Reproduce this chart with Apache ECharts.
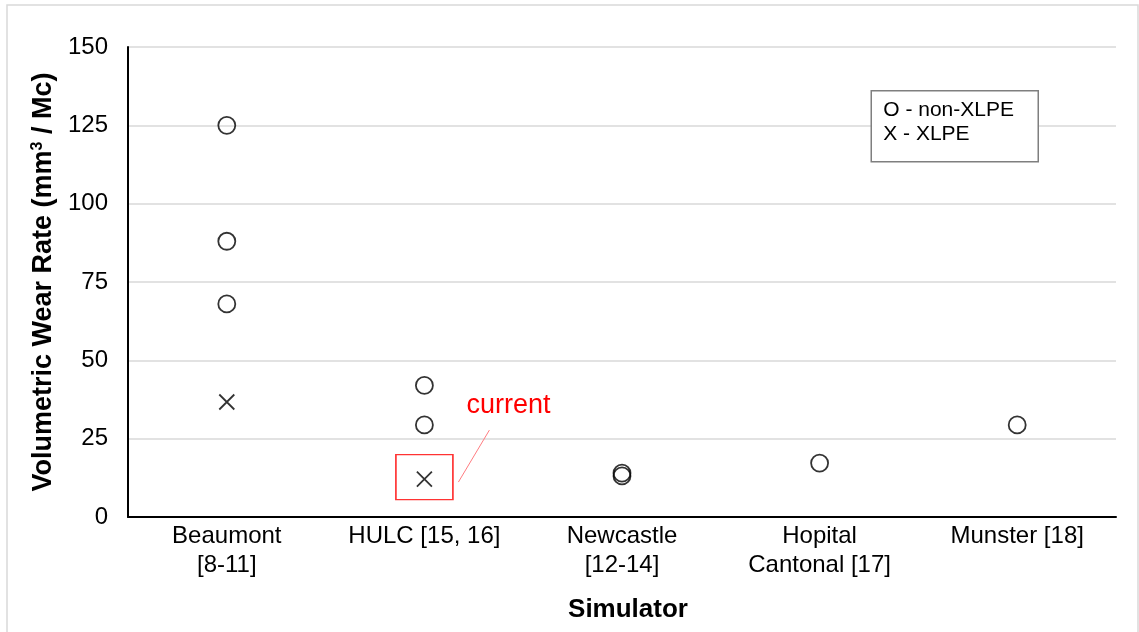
<!DOCTYPE html>
<html>
<head>
<meta charset="utf-8">
<script src="https://cdn.jsdelivr.net/npm/echarts@6/dist/echarts.min.js"></script>
<style>
  html, body { margin: 0; padding: 0; background: #fff; }
  #chart { width: 1139px; height: 632px; }
</style>
</head>
<body>
<div id="chart"></div>
<script>
// Simulators on the x axis
const simulators = ['Beaumont\n[8-11]', 'HULC [15, 16]', 'Newcastle\n[12-14]', 'Hopital\nCantonal [17]', 'Munster [18]'];
// Volumetric wear rate, mm³ / Mc
const nonXlpe = [
  [0, 125], [0, 88], [0, 68],
  [1, 42], [1, 29.4],
  [2, 14], [2, 13.1],
  [3, 17.2],
  [4, 29.4]
];
const xlpe = [
  [0, 36.7],
  [1, 12.1]
];
// The present study's point
const currentPoint = [1, 12.1];
const yTicks = [0, 25, 50, 75, 100, 125, 150];

const FONT = '"Liberation Sans", Arial, sans-serif';
const chart = echarts.init(document.getElementById('chart'));

const crossPath = 'path://M0,0L10,10M10,0L0,10';

chart.setOption({
  animation: false,
  grid: { left: 128, right: 23, top: 47, bottom: 115 },
  xAxis: {
    type: 'category',
    data: simulators,
    boundaryGap: true,
    name: 'Simulator',
    nameLocation: 'middle',
    nameGap: 80,
    nameTextStyle: { fontFamily: FONT, fontSize: 26, fontWeight: 'bold', color: '#000', padding: [0, 0, 0, 12] },
    axisLine: { lineStyle: { color: '#000', width: 2 } },
    axisTick: { show: false },
    axisLabel: { fontFamily: FONT, fontSize: 24, color: '#000', lineHeight: 29, margin: 5, interval: 0 }
  },
  yAxis: {
    type: 'value',
    min: yTicks[0],
    max: yTicks[yTicks.length - 1],
    interval: 25,
    name: '{t|Volumetric Wear Rate (mm}{s|3}{t| / Mc)}',
    nameLocation: 'middle',
    nameGap: 68,
    nameTextStyle: {
      fontFamily: FONT, fontSize: 27, fontWeight: 'bold', color: '#000',
      rich: {
        t: { fontFamily: FONT, fontSize: 27, fontWeight: 'bold', color: '#000' },
        s: { fontFamily: FONT, fontSize: 16, fontWeight: 'bold', color: '#000', verticalAlign: 'top', padding: [0, 0, 10, 0] }
      }
    },
    axisLine: { show: true, lineStyle: { color: '#000', width: 2 } },
    axisTick: { show: false },
    axisLabel: { fontFamily: FONT, fontSize: 24, color: '#000', margin: 20 },
    splitLine: { lineStyle: { color: '#d9d9d9', width: 1.5 } }
  },
  series: [
    {
      name: 'non-XLPE',
      type: 'scatter',
      data: nonXlpe,
      symbol: 'circle',
      symbolSize: 17,
      itemStyle: { color: 'rgba(255,255,255,0)', borderColor: '#000', borderWidth: 1.8 },
      z: 3
    },
    {
      name: 'XLPE',
      type: 'scatter',
      data: xlpe,
      symbol: crossPath,
      symbolSize: 15,
      itemStyle: { color: 'rgba(255,255,255,0)', borderColor: '#000', borderWidth: 1.8 },
      z: 3
    },
    {
      name: 'current-box',
      type: 'scatter',
      data: [currentPoint],
      symbol: 'rect',
      symbolSize: [57, 45],
      symbolOffset: [0, -2],
      silent: true,
      itemStyle: { color: 'rgba(255,255,255,0)', borderColor: '#ff0000', borderWidth: 1.5 },
      z: 2
    }
  ]
});

// Leader line and label for the present study, anchored to its data point
const p = chart.convertToPixel({ gridIndex: 0 }, currentPoint);
chart.setOption({
  graphic: [
    {
      type: 'rect',
      shape: { x: 7, y: 5, width: 1131, height: 640 },
      style: { fill: 'none', stroke: '#d9d9d9', lineWidth: 1.5 },
      silent: true, z: -1
    },
    {
      type: 'line',
      shape: { x1: p[0] + 34, y1: p[1] + 3, x2: p[0] + 65, y2: p[1] - 49 },
      style: { stroke: '#ff7c80', lineWidth: 1 },
      silent: true
    },
    {
      type: 'text',
      x: p[0] + 42, y: p[1] - 87,
      style: { text: 'current', fill: '#ff0000', font: '27px ' + FONT },
      silent: true
    },
    {
      type: 'group',
      right: 100, top: 90,
      children: [
        {
          type: 'rect',
          shape: { x: 0, y: 0, width: 167, height: 71 },
          style: { fill: '#fff', stroke: '#7f7f7f', lineWidth: 1.5 }
        },
        {
          type: 'text',
          x: 12, y: 7,
          style: { text: 'O - non-XLPE\nX - XLPE', fill: '#000', font: '21px ' + FONT, lineHeight: 24 }
        }
      ]
    }
  ]
});
</script>
</body>
</html>
